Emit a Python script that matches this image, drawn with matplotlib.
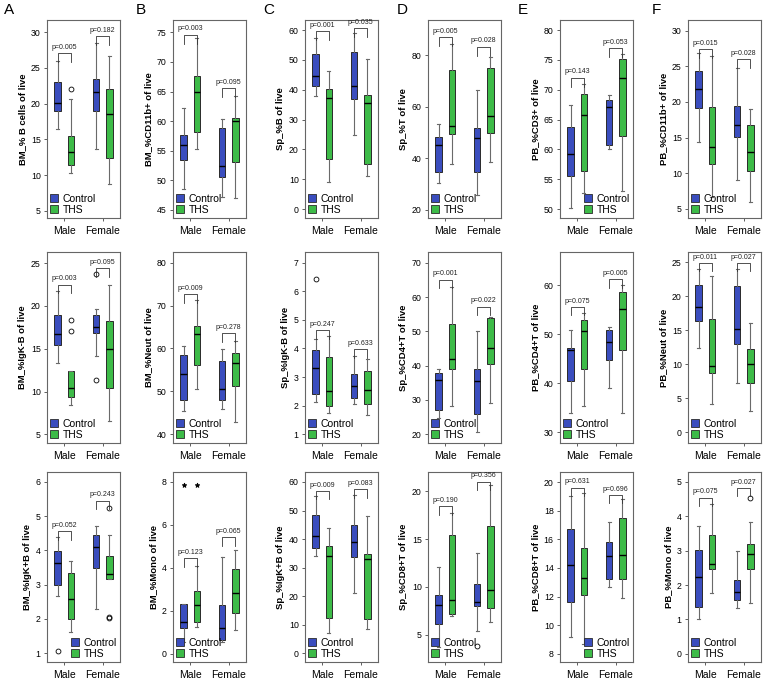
import matplotlib.pyplot as plt
from matplotlib.patches import Patch

plt.rcParams['font.family'] = ['Liberation Sans', 'DejaVu Sans']

groups = ["Male", "Female"]
series = ["Control", "THS"]

# box summaries, order: Control Male, THS Male, Control Female, THS Female
# each entry: [whisker low, q1, median, q3, whisker high]
bm_b_cells = [[16.4, 19.0, 20.1, 23.0, 26.0], [10.3, 11.4, 13.3, 15.5, 20.7],
              [13.6, 18.9, 21.6, 23.4, 28.5], [8.7, 12.4, 18.5, 22.1, 26.7]]
bm_cd11b = [[48.5, 53.4, 56.0, 57.7, 62.2], [55.3, 58.2, 64.9, 67.7, 74.0],
            [47.1, 50.5, 52.4, 58.9, 60.4], [47.0, 53.0, 60.0, 60.6, 64.3]]
sp_b = [[37.8, 41.2, 44.7, 52.0, 57.4], [9.2, 16.7, 37.1, 40.1, 46.4],
        [24.9, 36.8, 41.2, 52.6, 58.9], [11.0, 15.2, 35.5, 38.2, 50.3]]
sp_t = [[30.5, 34.8, 45.2, 48.3, 53.3], [37.8, 49.4, 52.6, 74.2, 84.2],
        [25.6, 34.8, 48.0, 51.9, 66.6], [38.5, 49.8, 56.4, 75.0, 79.4]]
pb_cd3 = [[50.2, 55.5, 59.2, 63.7, 67.5], [52.7, 56.4, 65.8, 69.3, 71.0],
          [60.1, 60.7, 67.1, 68.3, 69.2], [53.0, 62.3, 72.0, 75.2, 76.0]]
pb_cd11b = [[14.4, 19.2, 21.8, 24.3, 26.8], [6.7, 11.3, 13.6, 19.3, 26.4],
            [9.1, 15.1, 16.7, 19.4, 24.8], [6.0, 10.3, 13.0, 16.7, 19.0]]

bm_igk_neg = [[13.3, 15.5, 16.7, 19.0, 21.8], [8.4, 9.4, 10.4, 12.4, 12.4],
              [14.2, 16.8, 17.5, 19.0, 19.6], [6.6, 10.4, 15.0, 18.2, 22.4]]
bm_neut = [[45.3, 48.0, 54.0, 58.5, 60.5], [50.6, 56.1, 63.4, 65.3, 71.2],
           [45.9, 48.0, 50.5, 57.0, 59.8], [42.7, 51.1, 56.5, 58.8, 61.7]]
sp_igk_neg = [[2.13, 2.40, 3.30, 3.95, 4.35], [1.75, 2.0, 2.5, 3.7, 4.45],
              [2.05, 2.25, 2.68, 3.12, 3.73], [1.67, 2.07, 2.53, 3.20, 3.63]]
sp_cd4 = [[24.8, 27.1, 35.9, 37.8, 39.0], [28.2, 39.0, 42.0, 52.3, 63.0],
          [20.5, 25.8, 35.4, 39.0, 50.2], [29.2, 40.5, 45.3, 53.9, 54.2]]
pb_cd4 = [[34.0, 40.5, 46.7, 47.2, 50.9], [35.3, 42.9, 50.6, 53.0, 54.4],
          [39.1, 44.8, 48.5, 50.8, 51.5], [33.9, 46.7, 55.1, 58.7, 60.1]]
pb_neut = [[12.4, 16.4, 18.4, 21.7, 24.0], [4.2, 8.7, 9.7, 16.6, 23.0],
           [7.3, 12.9, 15.1, 21.5, 24.0], [3.1, 7.3, 10.0, 12.2, 16.0]]

bm_igk_pos = [[2.67, 3.0, 3.62, 3.98, 4.38], [1.62, 1.99, 2.57, 3.34, 3.68],
              [2.29, 3.48, 4.10, 4.44, 4.70], [3.15, 3.16, 3.32, 3.84, 4.44]]
bm_mono = [[0.52, 1.18, 1.45, 2.30, 2.30], [1.25, 1.45, 2.28, 2.91, 4.08],
           [0.52, 0.65, 1.2, 2.27, 4.5], [1.1, 1.87, 2.83, 3.93, 4.85]]
sp_igk_pos = [[33.9, 36.8, 41.2, 48.5, 55.0], [7.0, 12.4, 33.9, 37.4, 44.0],
              [21.2, 33.8, 39.1, 45.0, 55.4], [8.3, 12.0, 33.1, 34.6, 48.2]]
sp_cd8 = [[3.7, 6.1, 8.1, 9.1, 12.1], [7.0, 7.2, 8.6, 15.4, 17.7],
          [5.4, 8.0, 8.4, 10.3, 13.5], [6.3, 7.8, 9.7, 16.4, 20.6]]
pb_cd8 = [[9.2, 11.6, 14.2, 16.7, 19.0], [8.7, 12.1, 13.3, 15.4, 19.2],
          [12.7, 13.2, 14.8, 15.8, 17.2], [11.9, 13.2, 14.9, 17.5, 18.8]]
pb_mono = [[1.0, 1.36, 2.23, 3.02, 3.72], [1.78, 2.46, 2.62, 3.47, 4.35],
           [1.33, 1.57, 1.81, 2.15, 3.0], [1.48, 2.48, 2.90, 3.18, 3.83]]

# outliers per box (same order)
no_out = [[], [], [], []]
bm_b_cells_out = [[], [22.0], [], []]
bm_igk_neg_out = [[], [17.1, 18.4], [23.7, 11.3], []]
sp_igk_neg_out = [[6.45], [], [], []]
bm_igk_pos_out = [[1.05], [], [], [5.24, 2.02, 2.04]]
bm_mono_out = [[7.85], [7.85], [], []]
sp_cd8_out = [[], [], [3.8], []]
pb_mono_out = [[], [], [], [4.53]]

# p-values (Male, Female)
p_row1 = [("0.005", "0.182"), ("0.003", "0.095"), ("0.001", "0.035"),
          ("0.005", "0.028"), ("0.143", "0.053"), ("0.015", "0.028")]
p_row2 = [("0.003", "0.095"), ("0.009", "0.278"), ("0.247", "0.633"),
          ("0.001", "0.022"), ("0.075", "0.005"), ("0.011", "0.027")]
p_row3 = [("0.052", "0.243"), ("0.123", "0.065"), ("0.009", "0.083"),
          ("0.190", "0.356"), ("0.631", "0.696"), ("0.075", "0.027")]

BLUE = "#3A4DBE"
GREEN = "#3DBB48"

# ylabel, stats, outliers, ylim, yticks, bracket heights, legend loc
panels = [
    ("BM_% B cells of live", bm_b_cells, bm_b_cells_out, (4.0, 31.7), range(5, 31, 5), (27.1, 29.4), "left"),
    ("BM_%CD11b+ of live", bm_cd11b, no_out, (43.6, 77.1), range(45, 76, 5), (74.6, 65.6), "left"),
    ("Sp_%B of live", sp_b, no_out, (-3.0, 63.4), range(0, 61, 10), (59.7, 60.6), "left"),
    ("Sp_%T of live", sp_t, no_out, (16.8, 93.6), range(20, 81, 20), (87.0, 83.2), "left"),
    ("PB_%CD3+ of live", pb_cd3, no_out, (48.5, 81.7), range(50, 81, 5), (72.0, 77.0), "right"),
    ("PB_%CD11b+ of live", pb_cd11b, no_out, (3.7, 31.5), range(5, 31, 5), (27.4, 26.0), "left"),
    ("BM_%IgK-B of live", bm_igk_neg, bm_igk_neg_out, (4.0, 26.3), range(5, 26, 5), (22.5, 24.4), "left"),
    ("BM_%Neut of live", bm_neut, no_out, (37.9, 82.5), range(40, 81, 10), (72.6, 63.6), "left"),
    ("Sp_%IgK-B of live", sp_igk_neg, sp_igk_neg_out, (0.69, 7.38), range(1, 8), (4.65, 3.97), "left"),
    ("Sp_%CD4+T of live", sp_cd4, no_out, (17.4, 73.2), range(20, 71, 10), (65.1, 57.2), "left"),
    ("PB_%CD4+T of live", pb_cd4, no_out, (27.8, 66.8), range(30, 61, 10), (55.6, 61.2), "left"),
    ("PB_%Neut of live", pb_neut, no_out, (-1.6, 26.5), range(0, 26, 5), (24.9, 24.9), "left"),
    ("BM_%IgK+B of live", bm_igk_pos, bm_igk_pos_out, (0.74, 6.29), range(1, 7), (4.56, 5.45), "right"),
    ("BM_%Mono of live", bm_mono, bm_mono_out, (-0.39, 8.46), range(0, 9, 2), (4.44, 5.42), "left"),
    ("Sp_%IgK+B of live", sp_igk_pos, no_out, (-3.1, 63.5), range(0, 61, 10), (56.9, 57.4), "left"),
    ("Sp_%CD8+T of live", sp_cd8, sp_cd8_out, (2.15, 22.0), range(5, 21, 5), (18.4, 21.0), "left"),
    ("PB_%CD8+T of live", pb_cd8, no_out, (7.43, 20.7), range(8, 21, 2), (19.6, 19.1), "right"),
    ("PB_%Mono of live", pb_mono, pb_mono_out, (-0.24, 5.29), range(0, 6), (4.54, 4.83), "left"),
]
pvals = p_row1 + p_row2 + p_row3

W, H = 770, 681
fig = plt.figure(figsize=(7.7, 6.81), dpi=100)

col_left = [47, 173, 305, 428, 560, 688]
col_w = 73
row_top = [20, 252, 472]
row_bot = [218, 443, 662]
letters = ["A", "B", "C", "D", "E", "F"]
letter_x = [4, 136, 263, 397, 518, 652]

positions = [0.83, 1.17, 1.83, 2.17]

for i, (ylab, stats, outs, ylim, yticks, brk, legloc) in enumerate(panels):
    r, c = divmod(i, 6)
    ax = fig.add_axes([col_left[c] / W, 1 - row_bot[r] / H, col_w / W,
                       (row_bot[r] - row_top[r]) / H])
    bstats = []
    for s, o in zip(stats, outs):
        bstats.append({"whislo": s[0], "q1": s[1], "med": s[2], "q3": s[3],
                       "whishi": s[4], "fliers": o})
    marker = "*" if ylab == "BM_%Mono of live" else "o"
    bp = ax.bxp(bstats, positions=positions, widths=0.17, patch_artist=True,
                capwidths=0.07, showfliers=True,
                boxprops=dict(edgecolor="#2a2a2a", linewidth=0.7),
                medianprops=dict(color="black", linewidth=1.0),
                whiskerprops=dict(color="#6a6a6a", linewidth=0.8),
                capprops=dict(color="#6a6a6a", linewidth=0.8),
                flierprops=dict(marker=marker, markerfacecolor="black" if marker == "*" else "none",
                                markeredgecolor="black", markersize=3.5, markeredgewidth=0.6))
    for k, patch in enumerate(bp["boxes"]):
        patch.set_facecolor(BLUE if k % 2 == 0 else GREEN)

    ax.set_xlim(0.55, 2.45)
    ax.set_ylim(*ylim)
    ax.set_yticks(list(yticks))
    ax.set_xticks([1, 2])
    ax.set_xticklabels(groups, fontsize=7.5)
    ax.tick_params(axis="y", labelsize=6.3, length=2.5, width=0.6, pad=2, color="#444444")
    ax.tick_params(axis="x", length=2.5, width=0.6, pad=3, color="#444444")
    for sp in ax.spines.values():
        sp.set_color("#666666")
        sp.set_linewidth(0.8)
    ax.set_ylabel(ylab, fontsize=6.8, fontweight="bold", labelpad=3)

    # significance brackets
    rng = ylim[1] - ylim[0]
    d = 0.045 * rng
    for g in range(2):
        x1, x2 = positions[2 * g], positions[2 * g + 1]
        yb = brk[g]
        ax.plot([x1, x1, x2, x2], [yb - d, yb, yb, yb - d], color="#333333", lw=0.6)
        ax.text((x1 + x2) / 2, yb + 0.012 * rng, "p=" + pvals[i][g], ha="center",
                va="bottom", fontsize=5.0, color="#222222")

    handles = [Patch(facecolor=BLUE, edgecolor="#2a2a2a", linewidth=0.6),
               Patch(facecolor=GREEN, edgecolor="#2a2a2a", linewidth=0.6)]
    ax.legend(handles, series, loc="lower " + legloc, frameon=False, fontsize=7.5,
              handlelength=0.8, handleheight=0.8, handletextpad=0.4,
              labelspacing=0.1, borderaxespad=0.1, borderpad=0.2)

    if r == 0:
        fig.text(letter_x[c] / W, 1 - 10 / H, letters[c], fontsize=11, va="center", ha="left")

fig.savefig("out.png", dpi=100)
